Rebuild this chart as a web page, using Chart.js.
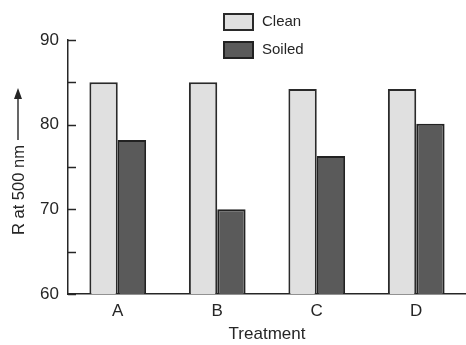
<!DOCTYPE html>
<html>
<head>
<meta charset="utf-8">
<script src="https://cdn.jsdelivr.net/npm/chart.js@4.4.0/dist/chart.umd.min.js"></script>
<style>
  html, body { margin: 0; padding: 0; background: #fff; }
  #wrap { width: 466px; height: 345px; position: relative; }
</style>
</head>
<body>
<div id="wrap"><canvas id="chart"></canvas></div>
<script>
// ── 数据 ──
const treatments = ['A', 'B', 'C', 'D'];
const cleanValues = [85, 85, 84.2, 84.2];
const soiledValues = [78.2, 70, 76.3, 80.1];
const seriesNames = ['Clean', 'Soiled'];
const yTitle = 'R at 500 nm';
const xTitle = 'Treatment';

const INK = '#262626';
const FONT = "'Liberation Sans', Arial, sans-serif";

// 向内的刻度线
const innerTicks = {
  id: 'innerTicks',
  afterDraw(chart) {
    const y = chart.scales.y;
    const ctx = chart.ctx;
    ctx.save();
    ctx.strokeStyle = INK;
    ctx.lineWidth = 1.5;
    y.ticks.forEach(t => {
      const py = Math.round(y.getPixelForValue(t.value)) + 0.5;
      ctx.beginPath();
      ctx.moveTo(y.right, py);
      ctx.lineTo(y.right + 8, py);
      ctx.stroke();
    });
    ctx.restore();
  }
};

// 纵轴标题 + 箭头
const yTitleArrow = {
  id: 'yTitleArrow',
  afterDraw(chart) {
    const ctx = chart.ctx;
    ctx.save();
    ctx.translate(18, 235);
    ctx.rotate(-Math.PI / 2);
    ctx.fillStyle = INK;
    ctx.font = '16.5px ' + FONT;
    ctx.textAlign = 'left';
    ctx.textBaseline = 'middle';
    ctx.fillText(yTitle, 0, 1);
    const w = ctx.measureText(yTitle).width;
    ctx.strokeStyle = INK;
    ctx.lineWidth = 1.4;
    ctx.beginPath();
    ctx.moveTo(w + 5, 0);
    ctx.lineTo(140, 0);
    ctx.stroke();
    ctx.beginPath();
    ctx.moveTo(147, 0);
    ctx.lineTo(136, -4);
    ctx.lineTo(136, 4);
    ctx.closePath();
    ctx.fill();
    ctx.restore();
  }
};

// 竖排图例
const stackedLegend = {
  id: 'stackedLegend',
  afterDraw(chart) {
    const ctx = chart.ctx;
    ctx.save();
    ctx.font = '15px ' + FONT;
    ctx.textBaseline = 'middle';
    chart.data.datasets.forEach((ds, i) => {
      const top = 14 + i * 28;
      ctx.fillStyle = ds.backgroundColor;
      ctx.strokeStyle = ds.borderColor;
      ctx.lineWidth = 2;
      ctx.fillRect(224, top, 29, 16);
      ctx.strokeRect(224, top, 29, 16);
      ctx.fillStyle = INK;
      ctx.fillText(ds.label, 262, top + 8);
    });
    ctx.restore();
  }
};

new Chart(document.getElementById('chart'), {
  type: 'bar',
  data: {
    labels: treatments,
    datasets: [
      {
        label: seriesNames[0],
        data: cleanValues,
        backgroundColor: '#e0e0e0',
        borderColor: '#2a2a2a',
        borderWidth: 2
      },
      {
        label: seriesNames[1],
        data: soiledValues,
        backgroundColor: '#5a5a5a',
        borderColor: '#222',
        borderWidth: 2
      }
    ]
  },
  options: {
    responsive: true,
    maintainAspectRatio: false,
    animation: false,
    layout: { padding: { top: 40, left: 0, right: 0, bottom: 0 } },
    datasets: { bar: { categoryPercentage: 0.57, barPercentage: 1.0 } },
    plugins: {
      legend: { display: false },
      tooltip: { enabled: false }
    },
    scales: {
      x: {
        afterFit(scale) { scale.height = 51; },
        grid: { display: false, drawTicks: false },
        border: { color: INK, width: 1.5 },
        ticks: { color: INK, padding: 7, font: { family: FONT, size: 17 } },
        title: {
          display: true,
          text: xTitle,
          color: INK,
          padding: { top: 0, bottom: 0 },
          font: { family: FONT, size: 17 }
        }
      },
      y: {
        min: 60,
        max: 90,
        afterFit(scale) { scale.width = 68; },
        grid: { display: false, drawTicks: false },
        border: { color: INK, width: 1.5 },
        ticks: {
          stepSize: 5,
          color: INK,
          padding: 9,
          font: { family: FONT, size: 17 },
          callback: v => (v % 10 === 0 ? v : '')
        }
      }
    }
  },
  plugins: [innerTicks, yTitleArrow, stackedLegend]
});
</script>
</body>
</html>
